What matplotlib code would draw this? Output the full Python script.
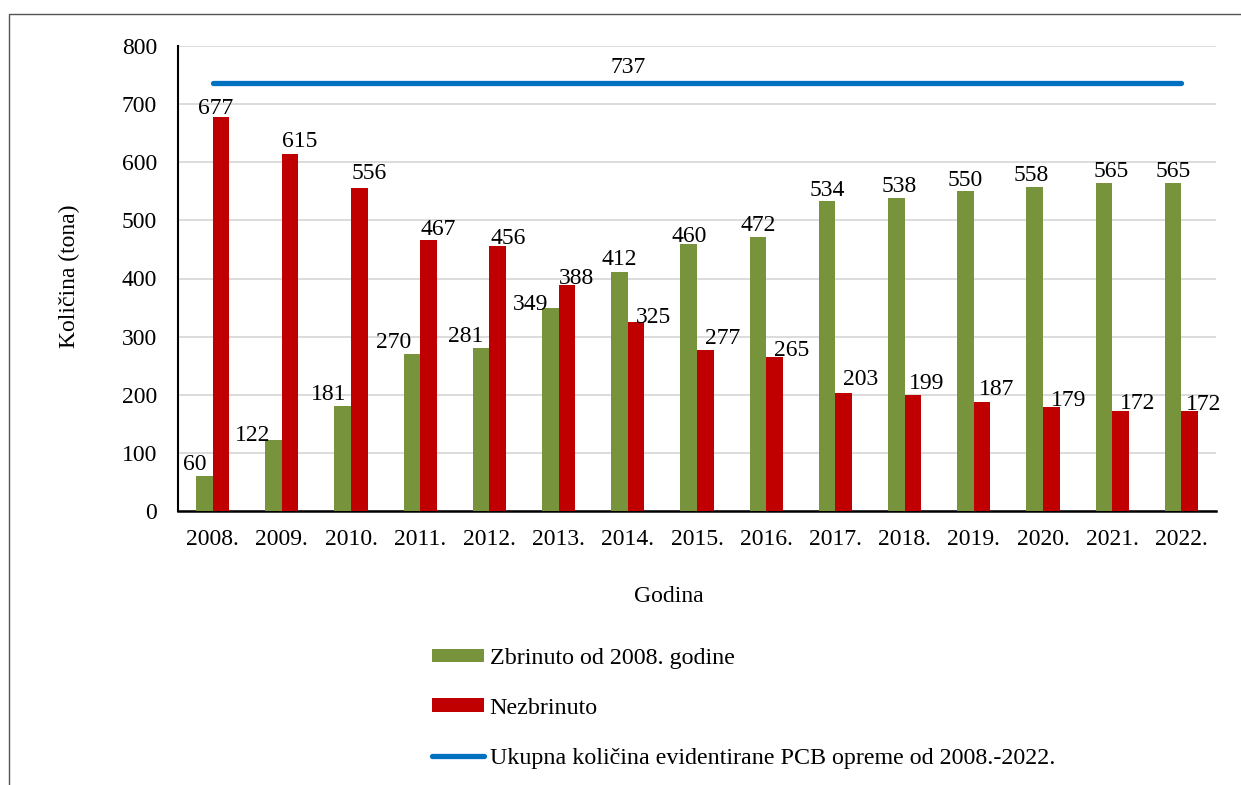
import matplotlib
matplotlib.use("Agg")
import matplotlib.pyplot as plt
import numpy as np
from matplotlib.patches import Patch
from matplotlib.lines import Line2D

# ---- data ----
years = ["2008.", "2009.", "2010.", "2011.", "2012.", "2013.", "2014.", "2015.",
         "2016.", "2017.", "2018.", "2019.", "2020.", "2021.", "2022."]
zbrinuto = [60, 122, 181, 270, 281, 349, 412, 460, 472, 534, 538, 550, 558, 565, 565]
nezbrinuto = [677, 615, 556, 467, 456, 388, 325, 277, 265, 203, 199, 187, 179, 172, 172]
ukupno = [737] * 15
y_ticks = [0, 100, 200, 300, 400, 500, 600, 700, 800]

label_zbr = "Zbrinuto od 2008. godine"
label_nez = "Nezbrinuto"
label_uk = "Ukupna količina evidentirane PCB opreme od 2008.-2022."

# label nudges (pixels) for the data labels, mimicking the original layout
g_off = [(-10, -14), (-21, -7), (-14, -14), (-18, -14), (-15, -14), (-20, -6), (0, -15),
         (0, -10), (0, -14), (0, -13), (3, -14), (0, -13), (-4, -14), (7, -14), (0, -14)]
r_off = [(-5, -11), (10, -15), (10, -17), (10, -13), (10, -10), (10, -9), (17, -7),
         (17, -14), (17, -9), (17, -16), (14, -14), (15, -15), (17, -9), (17, -10), (14, -9)]

GREEN = "#77933C"
RED = "#C00000"
BLUE = "#0070C0"
FONT = "Liberation Serif"
FS = 17
FS_LEG = 17.3

plt.rcParams["font.family"] = [FONT, "DejaVu Serif"]

W, H = 1241, 785
fig = plt.figure(figsize=(W / 100, H / 100), dpi=100)
ax = fig.add_axes([178 / W, 1 - 511 / H, (1216 - 178) / W, (511 - 46) / H])

x = np.arange(len(years))
bw = 0.24
ax.bar(x - bw / 2, zbrinuto, width=bw, color=GREEN, zorder=3)
ax.bar(x + bw / 2, nezbrinuto, width=bw, color=RED, zorder=3)
ax.plot(x, ukupno, color=BLUE, lw=3.8, solid_capstyle="round", zorder=4)

for i in range(len(years)):
    dx, dy = g_off[i]
    ax.annotate(str(zbrinuto[i]), (x[i] - bw / 2, zbrinuto[i]), xytext=(dx, -dy - 8),
                textcoords="offset pixels", ha="center", va="baseline", fontsize=FS, zorder=5)
    dx, dy = r_off[i]
    ax.annotate(str(nezbrinuto[i]), (x[i] + bw / 2, nezbrinuto[i]), xytext=(dx, -dy - 8),
                textcoords="offset pixels", ha="center", va="baseline", fontsize=FS, zorder=5)

ax.annotate(str(ukupno[6]), (x[6], ukupno[6]), xytext=(0, 10), textcoords="offset pixels",
            ha="center", va="baseline", fontsize=FS, zorder=5)

ax.set_xlim(-0.5, len(years) - 0.5)
ax.set_ylim(0, 800)
ax.set_yticks(y_ticks)
ax.set_xticks(x)
ax.set_xticklabels(years)
ax.tick_params(axis="both", length=0, labelsize=FS, colors="#000000")
ax.tick_params(axis="y", pad=15)
ax.tick_params(axis="x", pad=13)
ax.grid(axis="y", color="#d9d9d9", lw=1.3, zorder=0)
ax.set_axisbelow(True)
for s in ["top", "right"]:
    ax.spines[s].set_visible(False)
ax.spines["left"].set_linewidth(1.5)
ax.spines["bottom"].set_linewidth(1.8)
ax.spines["left"].set_color("black")
ax.spines["bottom"].set_color("black")

fig.text(669 / W, 1 - 597 / H, "Godina", ha="center", va="center", fontsize=FS)
fig.text(69 / W, 1 - 276 / H, "Količina (tona)", ha="center", va="center",
         rotation=90, fontsize=FS)

handles = [Patch(facecolor=GREEN, edgecolor="none"),
           Patch(facecolor=RED, edgecolor="none"),
           Line2D([0], [0], color=BLUE, lw=3.8, solid_capstyle="round")]
fig.legend(handles, [label_zbr, label_nez, label_uk], loc="upper left",
           bbox_to_anchor=(432 / W, 1 - 648 / H), frameon=False, fontsize=FS_LEG,
           borderpad=0, borderaxespad=0, handlelength=2.15, handleheight=0.5,
           handletextpad=0.25, labelspacing=1.2)

# outer frame (partially visible)
fig.add_artist(Line2D([9 / W, 9 / W, 1.0], [0.0, 1 - 14 / H, 1 - 14 / H],
                      transform=fig.transFigure, color="#555555", lw=1.0))

fig.savefig("out.png", dpi=100)
